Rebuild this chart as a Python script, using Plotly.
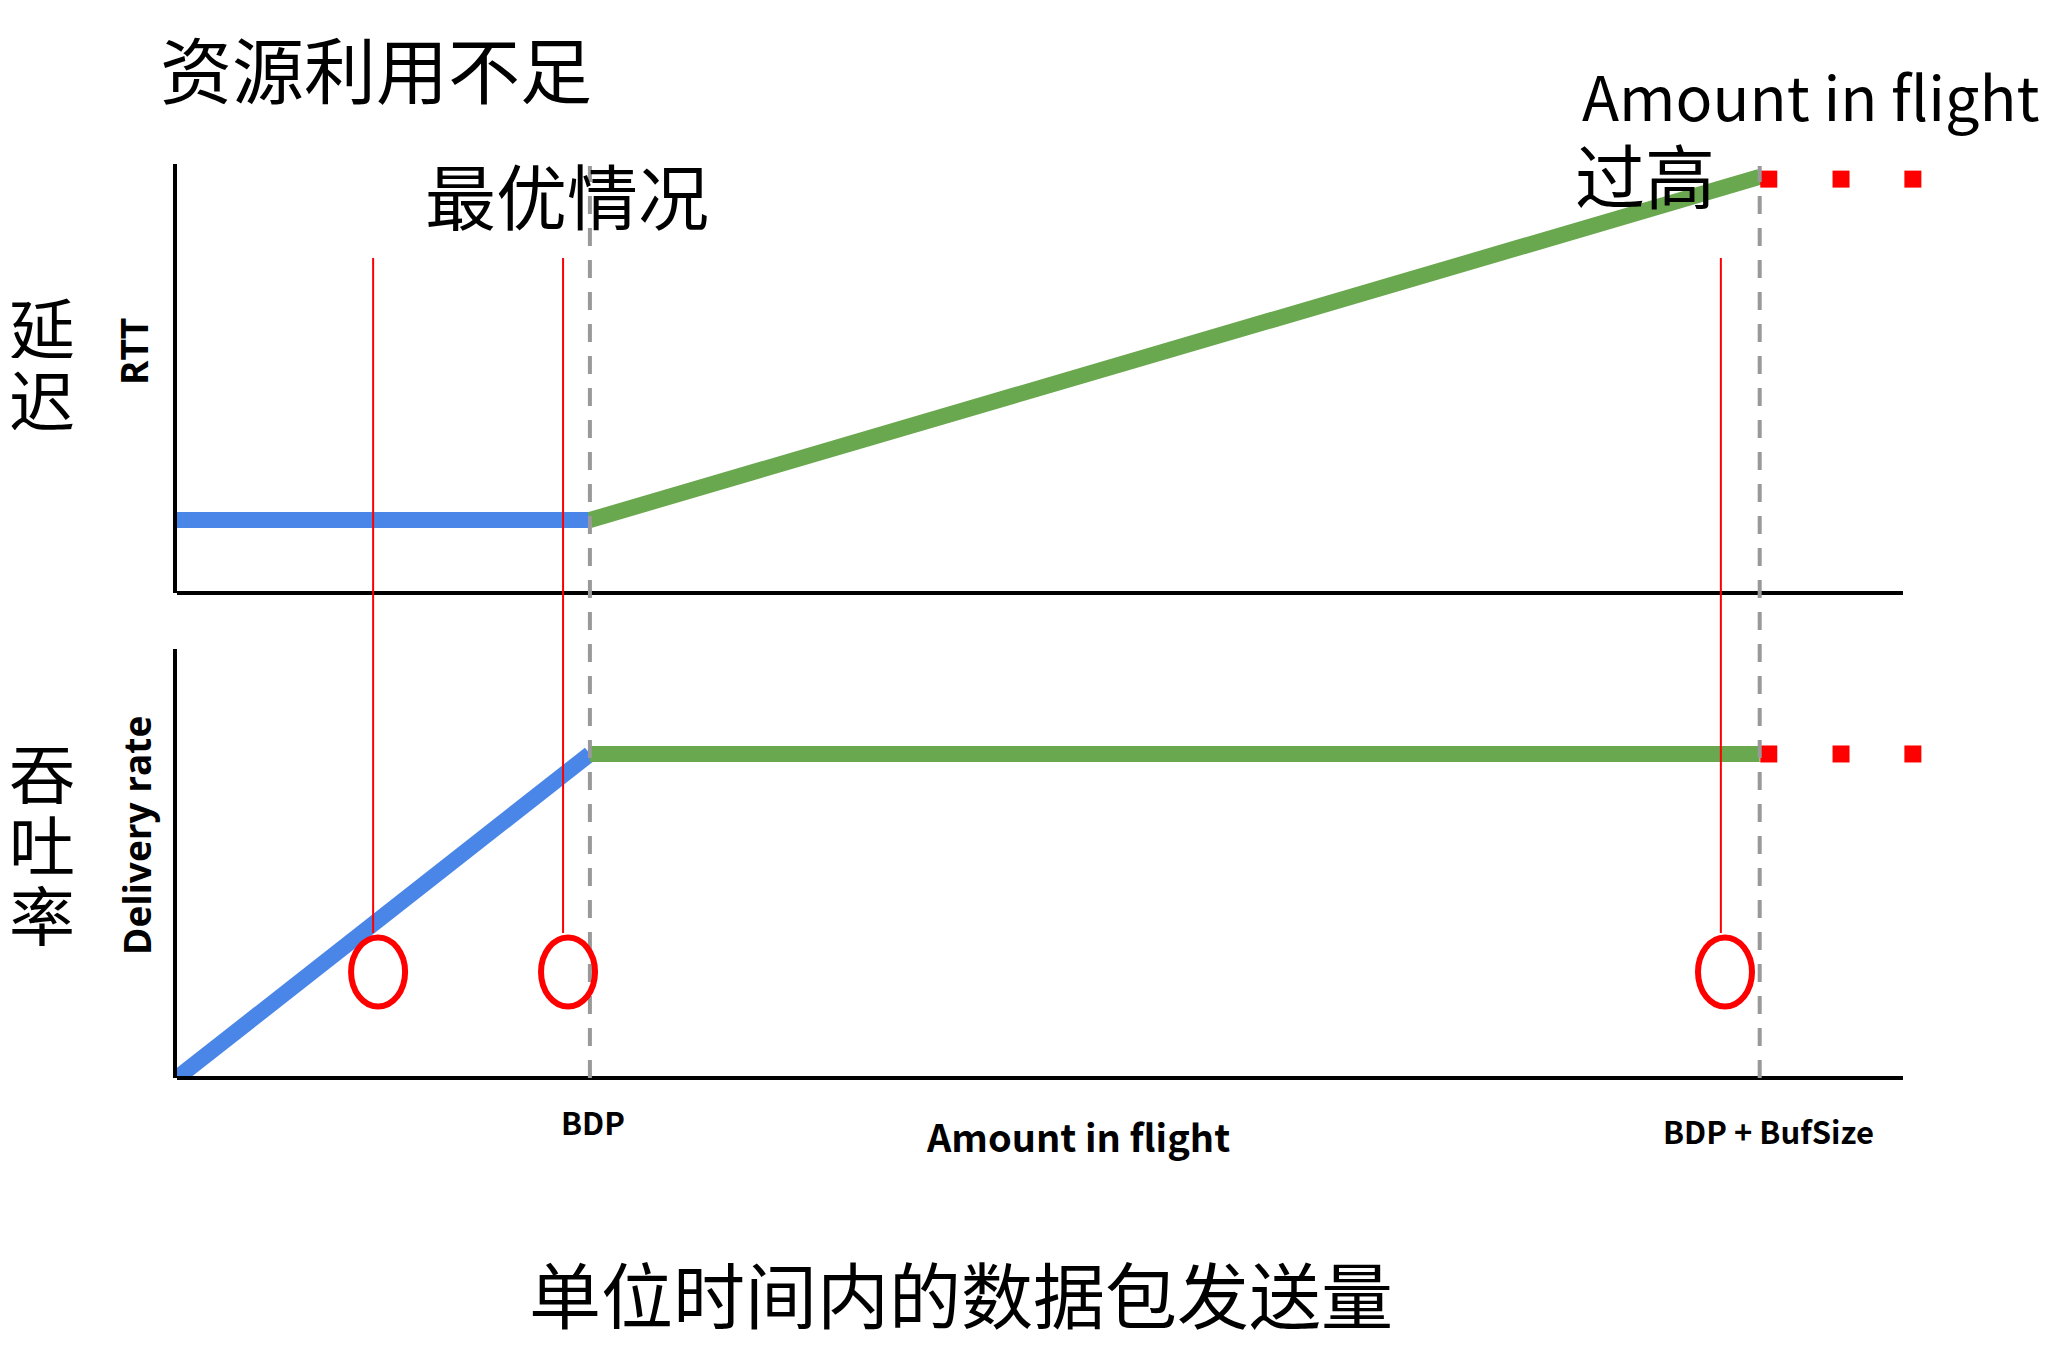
import plotly.graph_objects as go

# 数据（单位：BDP = 1，最小RTT = 1，最大交付速率 = 1）
BDP = 1.0
BDP_BUF = 3.833

rtt_x = [0.0, BDP, BDP_BUF]
rtt_y = [1.0, 1.0, 5.70]
rate_x = [0.0, BDP, BDP_BUF]
rate_y = [0.0, 1.0, 1.0]

dots_x = [3.855, 4.03, 4.204]
dots_rtt = [5.67, 5.67, 5.67]
dots_rate = [1.0, 1.0, 1.0]

mark_x = [0.475, 0.935, 3.739]
ring_x = [0.487, 0.947, 3.749]
ring_y = [0.327, 0.327, 0.327]

cut_x = [BDP, BDP_BUF]

BLUE = "#4A86E8"
GREEN = "#6AA84F"
RED = "#FF0000"
GRAY = "#999999"
CJK = "Noto Sans CJK SC"

# 页面像素 -> 图内坐标（页面body默认有8px边距）
OFF = 8
W, H = 2040, 1350
X_END = 4.18          # 坐标轴画到的位置
X_MAX = 4.26          # 绘图区范围（留出红色方点的位置）
X_SCALE = (1903 - 177) / X_END
PLOT_L, PLOT_T, PLOT_B = 177, 164, 1078
PW = X_MAX * X_SCALE
PH = PLOT_B - PLOT_T
L, T = PLOT_L - OFF, PLOT_T - OFF
R = W - (L + int(round(PW)))
B = H - (PLOT_B - OFF)
RTT_MAX = 5.877
RATE_MAX = 1.324
RATE_SCALE = 429 / RATE_MAX


def px(x, y):
    """页面像素坐标 -> paper坐标"""
    return (x - PLOT_L) / PW, 1 - (y - PLOT_T) / PH


fig = go.Figure()

# 上图：RTT
fig.add_trace(go.Scatter(x=rtt_x[:2], y=rtt_y[:2], mode="lines",
                         line=dict(color=BLUE, width=16), xaxis="x", yaxis="y"))
fig.add_trace(go.Scatter(x=rtt_x[1:], y=rtt_y[1:], mode="lines",
                         line=dict(color=GREEN, width=16), xaxis="x", yaxis="y"))
fig.add_trace(go.Scatter(x=dots_x, y=dots_rtt, mode="markers",
                         marker=dict(symbol="square", size=17, color=RED),
                         xaxis="x", yaxis="y"))

# 下图：Delivery rate
fig.add_trace(go.Scatter(x=rate_x[:2], y=rate_y[:2], mode="lines",
                         line=dict(color=BLUE, width=16), xaxis="x2", yaxis="y2"))
fig.add_trace(go.Scatter(x=rate_x[1:], y=rate_y[1:], mode="lines",
                         line=dict(color=GREEN, width=16), xaxis="x2", yaxis="y2"))
fig.add_trace(go.Scatter(x=dots_x, y=dots_rate, mode="markers",
                         marker=dict(symbol="square", size=17, color=RED),
                         xaxis="x2", yaxis="y2"))

top_dom = [px(0, 593)[1], 1]
bot_dom = [0, px(0, 649)[1]]

shapes = []
# x轴线
for yb in (top_dom[0], bot_dom[0]):
    shapes.append(dict(type="line", xref="x", yref="paper", x0=0, x1=X_END,
                       y0=yb, y1=yb, layer="above",
                       line=dict(color="black", width=4)))
# 灰色虚线
for xv in cut_x:
    shapes.append(dict(type="line", xref="x", yref="paper", x0=xv, x1=xv,
                       y0=0, y1=px(0, 166)[1], layer="above",
                       line=dict(color=GRAY, width=4, dash="18px,14px")))
# 红色竖线
y_top, y_bot = px(0, 258)[1], px(0, 933)[1]
for xv in mark_x:
    shapes.append(dict(type="line", xref="x", yref="paper", x0=xv, x1=xv,
                       y0=y_bot, y1=y_top, layer="above",
                       line=dict(color=RED, width=2)))
# 红色椭圆
hw, hh = 27 / X_SCALE, 34.5 / RATE_SCALE
for cx, cy in zip(ring_x, ring_y):
    shapes.append(dict(type="circle", xref="x2", yref="y2",
                       x0=cx - hw, x1=cx + hw, y0=cy - hh, y1=cy + hh,
                       layer="above", line=dict(color=RED, width=6)))

annotations = []


def label(text, x, y, size, family=CJK, angle=0, box_h=None):
    ax, ay = px(x, y)
    ann = dict(text=text, x=ax, y=ay, xref="paper", yref="paper",
               showarrow=False, textangle=angle,
               xanchor="center", yanchor="middle",
               font=dict(family=family, size=size, color="black"))
    if box_h:
        ann["height"] = box_h
    annotations.append(ann)


label("资源利用不足", 376, 66, 72)
label("最优情况", 567, 193, 71)
label("Amount in flight", 1811, 94, 61)
label("过高", 1645, 174, 70)
# 竖排中文标签，逐字放置
for ch, yy in zip("延迟", [325, 397]):
    label(ch, 42, yy, 66, box_h=66)
for ch, yy in zip("吞吐率", [771, 842, 913]):
    label(ch, 42, yy, 66, box_h=66)
label("<b>RTT</b>", 133, 352, 37, "Open Sans", -90)
label("<b>Delivery rate</b>", 136, 836, 37, "Open Sans", -90)
label("<b>BDP</b>", 593, 1121, 31)
label("<b>BDP + BufSize</b>", 1769, 1130, 31)
label("<b>Amount in flight</b>", 1078, 1135, 38)
label("单位时间内的数据包发送量", 961, 1291, 72)

axis_common = dict(showgrid=False, zeroline=False, ticks="",
                   showticklabels=False, fixedrange=True)
yaxis_common = dict(axis_common, showline=True, linecolor="black", linewidth=4)

fig.update_layout(
    width=W, height=H,
    margin=dict(l=L, r=R, t=T, b=B),
    paper_bgcolor="white", plot_bgcolor="white",
    showlegend=False,
    xaxis=dict(axis_common, range=[0, X_MAX], domain=[0, 1], anchor="y"),
    yaxis=dict(yaxis_common, range=[0, RTT_MAX], domain=top_dom, anchor="x"),
    xaxis2=dict(axis_common, range=[0, X_MAX], domain=[0, 1], anchor="y2"),
    yaxis2=dict(yaxis_common, range=[0, RATE_MAX], domain=bot_dom, anchor="x2"),
    shapes=shapes,
    annotations=annotations,
)

fig.write_html("out.html")
